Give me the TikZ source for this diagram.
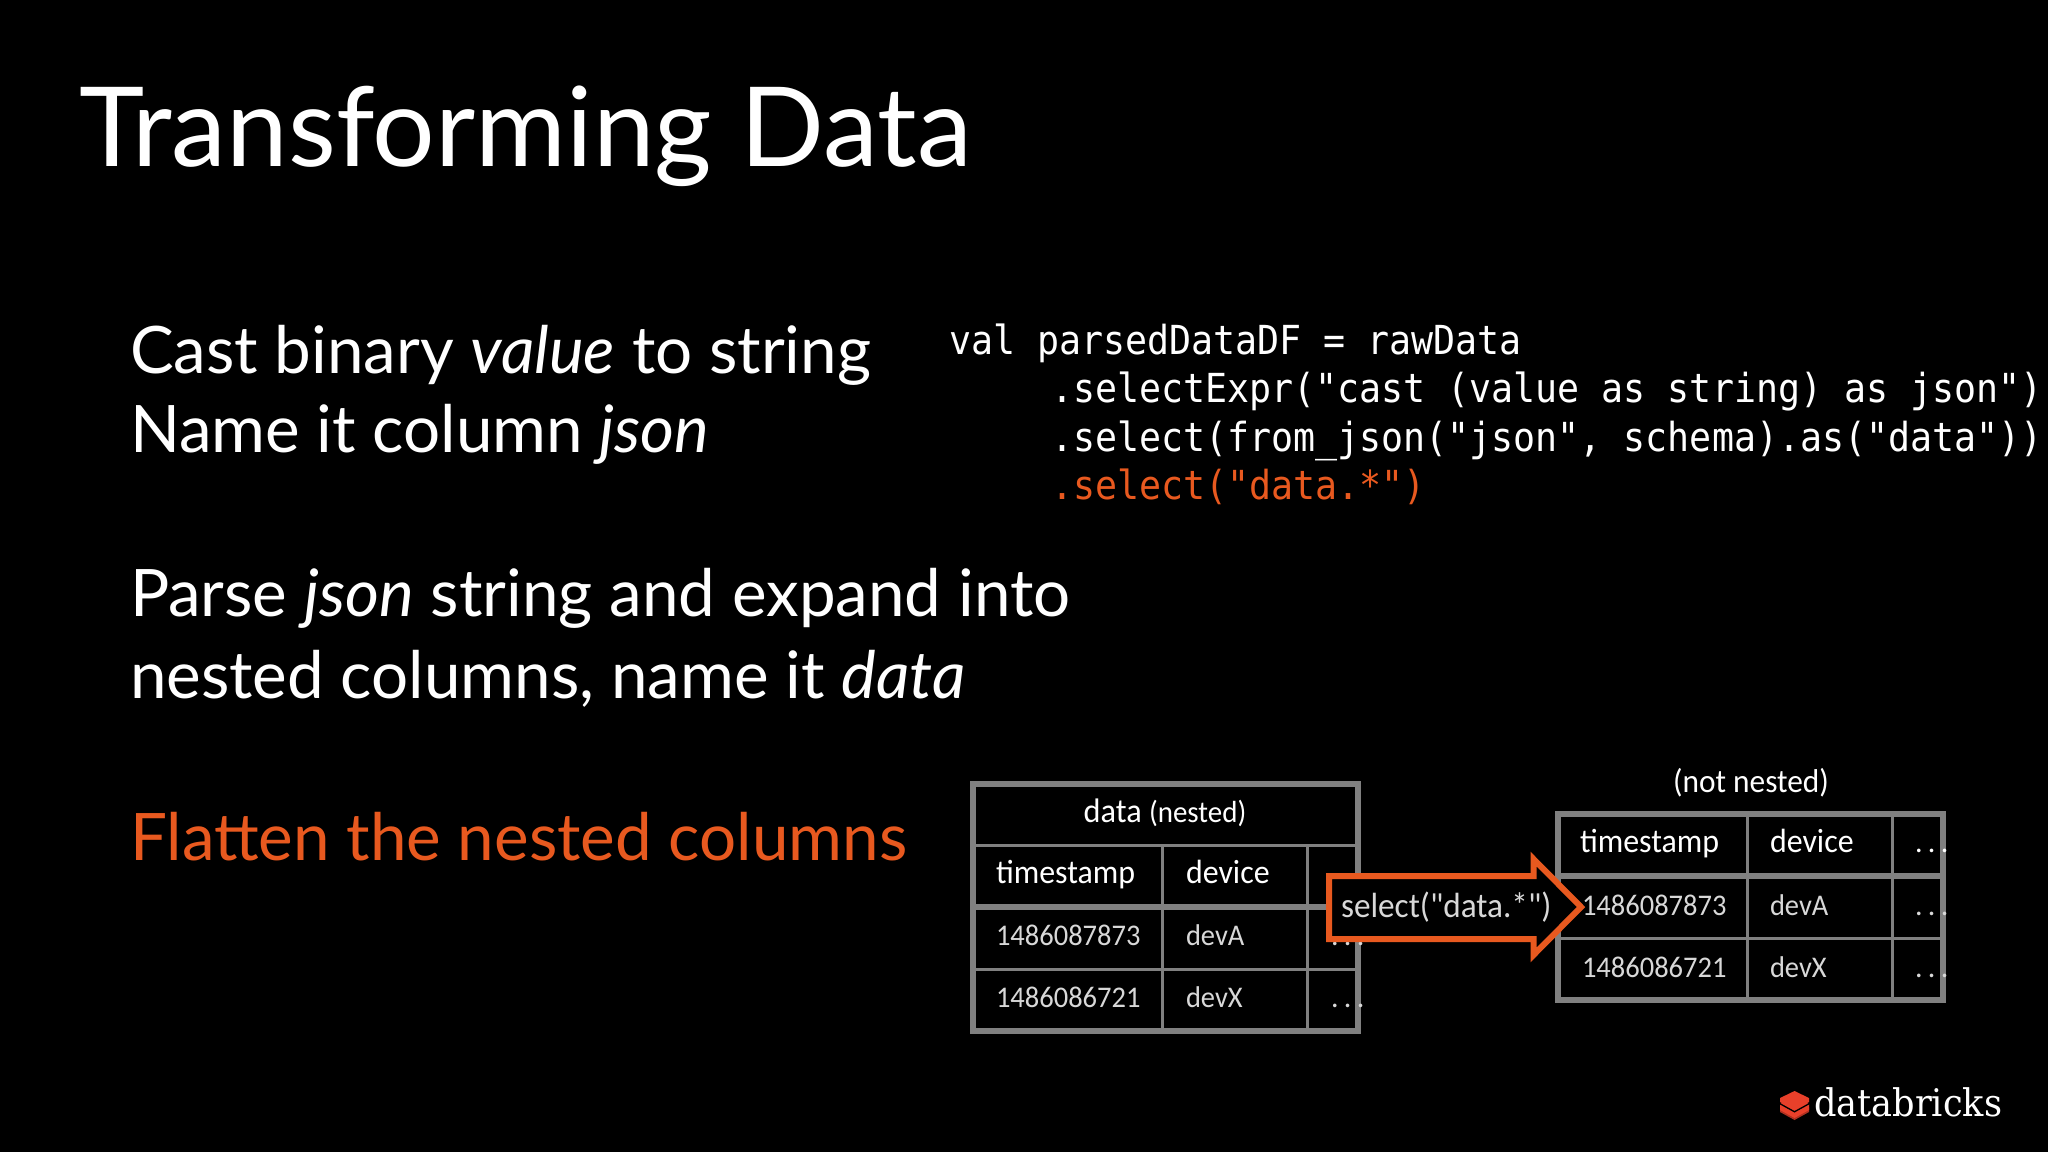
\documentclass[tikz,border=0pt]{standalone}
\usepackage{fontspec}
\setmainfont{Lato}
\newfontfamily\codefont[FakeStretch=0.915]{DejaVu Sans Mono}
\newfontfamily\logofont[FakeStretch=0.925]{DejaVu Serif}
\newfontfamily\tablefont[FakeStretch=0.95]{Carlito}
\newfontfamily\dotfont[LetterSpace=18]{Carlito}
\definecolor{accent}{HTML}{E8591F}
\definecolor{rule}{HTML}{808080}
\definecolor{soft}{HTML}{D8D8D8}
\definecolor{logored}{HTML}{E8402A}
\tikzset{
  x=1pt,y=-1pt,
  txt/.style={anchor=base west,inner sep=0pt,outer sep=0pt,text=white},
  title/.style={txt,font=\fontsize{110.5}{110}\selectfont},
  body/.style={txt,font=\fontsize{65.5}{65}\selectfont},
  code/.style={txt,font=\codefont\fontsize{40}{40}\selectfont},
  head/.style={txt,font=\tablefont\fontsize{33.6}{33}\selectfont},
  cell/.style={txt,text=soft,font=\tablefont\fontsize{30}{30}\selectfont},
  dots/.style={txt,text=soft,font=\dotfont\fontsize{30}{30}\selectfont},
  thick rule/.style={draw=rule,line width=6pt},
  thin rule/.style={draw=rule,line width=3pt},
}
\begin{document}
\begin{tikzpicture}
\useasboundingbox (0,0) rectangle (2048,1152);
\fill[black] (0,0) rectangle (2048,1152);
\node[title] (t) at (79,166) {Transforming Data};
\node[body] (b1) at (130,373) {Cast binary \textit{value} to string};
\node[body] (b2) at (130,452) {Name it column \textit{json}};
\node[body] (b3) at (130,616) {Parse \textit{json} string and expand into};
\node[body] (b4) at (130,698) {nested columns, name it \textit{data}};
\node[body,text=accent] (b5) at (130,860) {Flatten the nested columns};
\node[code] (c1) at (949,354) {val parsedDataDF = rawData};
\node[code] (c2) at (1051,402) {.selectExpr("cast (value as string) as json")};
\node[code] (c3) at (1051,451) {.select(from\_json("json", schema).as("data"))};
\node[code,text=accent] (c4) at (1051,499) {.select("data.*")};
% left table
\draw[thin rule] (973,845.3) -- (1357.5,845.3) (973,969) -- (1357.5,969)
  (1162,845.3) -- (1162,1030.5) (1307,845.3) -- (1307,1030.5);
\draw[thick rule] (973,907) -- (1357.5,907);
\draw[thick rule] (973,783.7) rectangle (1357.5,1030.5);
\node[txt,font=\tablefont\fontsize{34}{34}\selectfont,anchor=base] (dn) at (1165,822) {data {\fontsize{30.5}{30}\selectfont (nested)}};
\node[head] (h1) at (996,883) {timestamp};
\node[head] (h2) at (1186,883) {device};
\node[cell] (r11) at (996,945) {1486087873};
\node[cell] (r12) at (1186,945) {devA};
\node[dots] (r13) at (1331,945) {...};
\node[cell] (r21) at (996,1007) {1486086721};
\node[cell] (r22) at (1186,1007) {devX};
\node[dots] (r23) at (1331,1007) {...};
% right table
\draw[thin rule] (1558,938) -- (1943,938)
  (1747,814) -- (1747,999.7) (1892,814) -- (1892,999.7);
\draw[thick rule] (1558,876.3) -- (1943,876.3);
\draw[thick rule] (1558,814) rectangle (1943,999.7);
\node[txt,font=\tablefont\fontsize{33}{33}\selectfont,anchor=base] (nn) at (1751,792) {(not nested)};
\node[head] (q1) at (1580,852) {timestamp};
\node[head] (q2) at (1770,852) {device};
\node[dots,text=white] (q3) at (1915,852) {...};
\node[cell] (s11) at (1582,915) {1486087873};
\node[cell] (s12) at (1770,915) {devA};
\node[dots] (s13) at (1915,915) {...};
\node[cell] (s21) at (1582,977) {1486086721};
\node[cell] (s22) at (1770,977) {devX};
\node[dots] (s23) at (1915,977) {...};
% arrow
\draw[accent,fill=black,line width=6pt,miter limit=10]
  (1329,876) -- (1533.5,876) -- (1533.5,859) -- (1581,907) -- (1533.5,955) -- (1533.5,939) -- (1329,939) -- cycle;
\node[txt,text=soft,font=\tablefont\fontsize{35}{35}\selectfont] (sel) at (1341,917) {select(\char"22 data.*\char"22)};
% logo
\fill[logored!75!black] (1780,1107) -- (1794.5,1099) -- (1809,1107) -- (1809,1112) -- (1794.5,1120) -- (1780,1112) -- cycle;
\fill[logored] (1780,1104) -- (1794.5,1096) -- (1809,1104) -- (1809,1110) -- (1794.5,1118) -- (1780,1110) -- cycle;
\fill[black] (1780,1103) -- (1794.5,1111) -- (1809,1103) -- (1809,1104.5) -- (1794.5,1112.5) -- (1780,1104.5) -- cycle;
\fill[logored] (1780,1098) -- (1794.5,1091) -- (1809,1098) -- (1809,1102) -- (1794.5,1110) -- (1780,1102) -- cycle;
\node[txt,font=\logofont\fontsize{38}{38}\selectfont] (logo) at (1814,1116) {databricks};
\end{tikzpicture}
\end{document}
